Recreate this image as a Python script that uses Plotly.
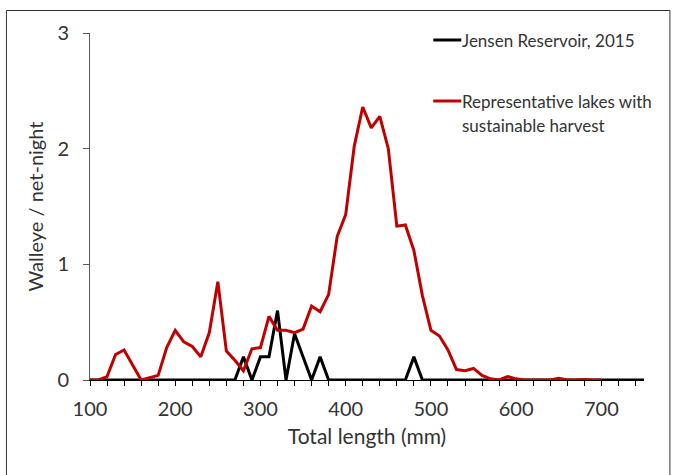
import plotly.graph_objects as go

# Data (10 mm length bins)
red_x = list(range(100, 710, 10))
red_y = [0.0, 0.0, 0.03, 0.22, 0.26, 0.13, 0.0, 0.02, 0.04, 0.28,
         0.43, 0.33, 0.29, 0.20, 0.41, 0.85, 0.25, 0.17, 0.08, 0.27,
         0.28, 0.55, 0.43, 0.43, 0.41, 0.44, 0.64, 0.59, 0.74, 1.24,
         1.43, 2.02, 2.36, 2.18, 2.28, 2.00, 1.33, 1.34, 1.12, 0.73,
         0.43, 0.38, 0.26, 0.09, 0.08, 0.10, 0.04, 0.01, 0.0, 0.03,
         0.01, 0.0, 0.0, 0.0, 0.0, 0.015, 0.0, 0.0, 0.005, 0.0, 0.0]

black_x = list(range(100, 760, 10))
black_nonzero = {280: 0.2, 300: 0.2, 310: 0.2, 320: 0.6, 340: 0.4,
                 350: 0.2, 370: 0.2, 480: 0.2}
black_y = [black_nonzero.get(x, 0.0) for x in black_x]

series_names = ["Jensen Reservoir, 2015",
                "Representative lakes with", "sustainable harvest"]
x_ticks = [100, 200, 300, 400, 500, 600, 700]
y_ticks = [0, 1, 2, 3]

FONT = "Lato, 'Open Sans', sans-serif"
TXT = "#333333"

fig = go.Figure()
fig.add_trace(go.Scatter(x=black_x, y=black_y, mode="lines",
                         line=dict(color="#000000", width=3),
                         name=series_names[0], showlegend=False))
fig.add_trace(go.Scatter(x=red_x, y=red_y, mode="lines",
                         line=dict(color="#C00000", width=3),
                         name="Representative lakes with sustainable harvest",
                         showlegend=False))

L, R, T, B = 90, 31.4, 33, 95
W, H = 675, 475
pw, ph = W - L - R, H - T - B


def px(xp):
    return (xp - L) / pw


def py(yp):
    return (H - B - yp) / ph


LEG = 17
# Legend (line samples + labels)
fig.add_shape(type="line", xref="paper", yref="paper",
              x0=px(433), x1=px(461), y0=py(40), y1=py(40),
              line=dict(color="#000000", width=3))
fig.add_shape(type="line", xref="paper", yref="paper",
              x0=px(433), x1=px(461), y0=py(101), y1=py(101),
              line=dict(color="#C00000", width=3))
fig.add_annotation(xref="paper", yref="paper", x=px(460), y=py(41),
                   text=series_names[0], showarrow=False,
                   xanchor="left", yanchor="middle",
                   font=dict(family=FONT, size=LEG, color=TXT))
fig.add_annotation(xref="paper", yref="paper", x=px(460), y=py(101),
                   text=series_names[1], showarrow=False,
                   xanchor="left", yanchor="middle",
                   font=dict(family=FONT, size=LEG, color=TXT))
fig.add_annotation(xref="paper", yref="paper", x=px(460), y=py(125),
                   text=series_names[2], showarrow=False,
                   xanchor="left", yanchor="middle",
                   font=dict(family=FONT, size=LEG, color=TXT))

# outer frame
fig.add_shape(type="rect", xref="paper", yref="paper",
              x0=px(6.5), x1=px(669.5), y0=py(476), y1=py(10.5),
              line=dict(color="#333333", width=1), layer="below")

fig.update_layout(
    width=W, height=H,
    margin=dict(l=L, r=R, t=T, b=B),
    paper_bgcolor="white", plot_bgcolor="white",
    font=dict(family=FONT, color=TXT),
    showlegend=False,
    xaxis=dict(range=[100, 750], tickvals=x_ticks,
               ticks="outside", ticklen=5, tickcolor="#000000",
               minor=dict(dtick=20, tick0=100, ticks="outside", ticklen=5,
                          tickcolor="#000000"),
               showline=True, linecolor="#000000", linewidth=1,
               showgrid=False, zeroline=False,
               tickfont=dict(size=20, color=TXT),
               ticklabelstandoff=6,
               title=dict(text="Total length (mm)",
                          font=dict(size=21, color=TXT), standoff=10)),
    yaxis=dict(range=[0, 3], tickvals=y_ticks,
               ticks="outside", ticklen=6, tickcolor="#595959",
               showline=True, linecolor="#595959", linewidth=1,
               showgrid=False, zeroline=False,
               tickfont=dict(size=20, color=TXT),
               ticklabelstandoff=10,
               title=dict(text="Walleye / net-night",
                          font=dict(size=20, color=TXT), standoff=8)),
)

fig.write_html("out.html")
